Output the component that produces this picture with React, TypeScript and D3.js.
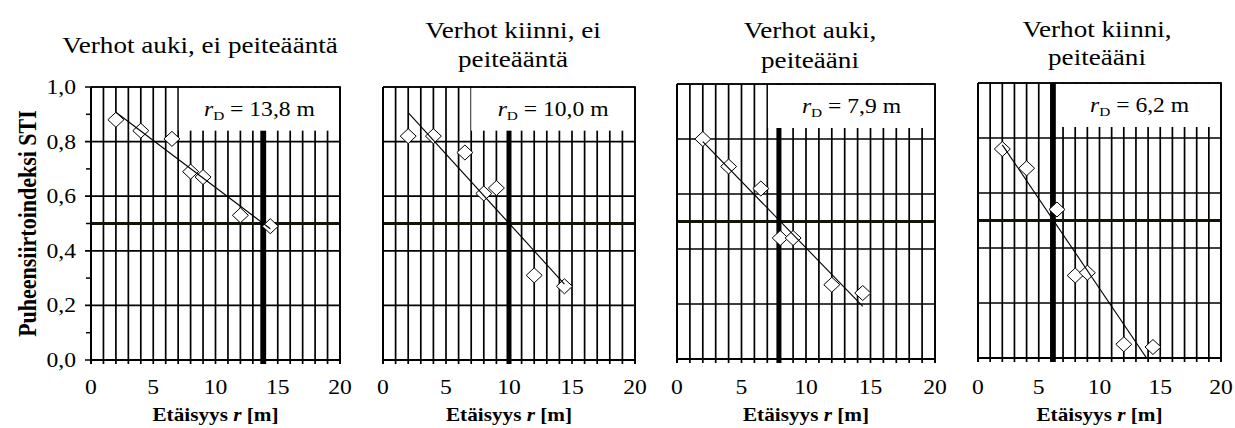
import React from "react";
import * as d3 from "d3";

// Measurement distances (m) shared by all four conditions
const distances = [2, 4, 6.5, 8, 9, 12, 14.4];

// Speech transmission index measured at each distance
const stiOpenNoMasking = [0.88, 0.84, 0.81, 0.69, 0.67, 0.53, 0.49];
const stiClosedNoMasking = [0.82, 0.82, 0.76, 0.61, 0.63, 0.31, 0.27];
const stiOpenMasking = [0.8, 0.7, 0.62, 0.44, 0.44, 0.27, 0.24];
const stiClosedMasking = [0.76, 0.69, 0.54, 0.3, 0.31, 0.05, 0.04];

// Distraction distance r_D for each condition (m)
const distractionDistances = [13.8, 10.0, 7.9, 6.2];

const panelTitles = [
  ["Verhot auki, ei peiteääntä"],
  ["Verhot kiinni, ei", "peiteääntä"],
  ["Verhot auki,", "peiteääni"],
  ["Verhot kiinni,", "peiteääni"],
];

const xTickValues = [0, 5, 10, 15, 20];
const yTickValues = [0, 0.2, 0.4, 0.6, 0.8, 1.0];
const yMinorTickValues = [0.1, 0.3, 0.5, 0.7, 0.9];
const STI_LIMIT = 0.5;
const X_MAX = 20;

const series = [stiOpenNoMasking, stiClosedNoMasking, stiOpenMasking, stiClosedMasking];

// Panel geometry (pixels) and legend box start (in metres)
const frames = [
  { left: 91, right: 340, top: 87, bottom: 360, boxFrom: 7.05, titleX: 200, titleY: [53] },
  { left: 383, right: 635, top: 87, bottom: 360, boxFrom: 7.0, titleX: 513, titleY: [38, 67] },
  { left: 677, right: 935, top: 84, bottom: 359, boxFrom: 7.05, titleX: 810, titleY: [38, 68] },
  { left: 978, right: 1221, top: 83, bottom: 358, boxFrom: 6.6, titleX: 1097, titleY: [37, 65] },
];

const FONT = "'Liberation Serif', 'Times New Roman', Times, serif";
const SX = 1.18; // horizontal stretch of the lettering
const BOX_BOTTOM = 0.84;
const GRID_W = 1.7;

const fiLocale = d3.formatLocale({ decimal: ",", thousands: " ", grouping: [3], currency: ["", " €"] });
const fmt1 = fiLocale.format(".1f");

function fitLine(xs: number[], ys: number[]) {
  const mx = d3.mean(xs) as number;
  const my = d3.mean(ys) as number;
  const sxy = d3.sum(xs, (x, i) => (x - mx) * (ys[i] - my));
  const sxx = d3.sum(xs, (x) => (x - mx) * (x - mx));
  const slope = sxy / sxx;
  const intercept = my - slope * mx;
  return (x: number) => intercept + slope * x;
}

function Panel({ idx }: { idx: number }) {
  const f = frames[idx];
  const values = series[idx];
  const rD = distractionDistances[idx];
  const x = d3.scaleLinear().domain([0, X_MAX]).range([f.left, f.right]);
  const y = d3.scaleLinear().domain([0, 1]).range([f.bottom, f.top]);
  const trend = fitLine(distances, values);
  const xExtent = d3.extent(distances) as [number, number];
  const trendPts: [number, number][] = [xExtent[0], xExtent[1]].map((d) => [d, trend(d)]);
  const lineGen = d3
    .line<[number, number]>()
    .x((d) => x(d[0]))
    .y((d) => y(d[1]));
  const clipId = `plot-clip-${idx}`;
  const gridX = d3.range(0, X_MAX + 1, 1);
  const hw = 8;
  const hh = 7.5;
  const isFirst = idx === 0;

  return (
    <g>
      <defs>
        <clipPath id={clipId}>
          <rect x={f.left} y={f.top} width={f.right - f.left} height={f.bottom - f.top} />
        </clipPath>
      </defs>

      {/* vertical grid with ticks below the axis */}
      {gridX.map((g) => (
        <line key={`vx${g}`} x1={x(g)} x2={x(g)} y1={y(0) + 4} y2={y(1)} stroke="#000" strokeWidth={GRID_W} />
      ))}

      {/* horizontal grid */}
      {yTickValues.map((t) => (
        <line
          key={`hy${t}`}
          x1={isFirst ? f.left - 6 : f.left}
          x2={f.right}
          y1={y(t)}
          y2={y(t)}
          stroke="#000"
          strokeWidth={GRID_W}
        />
      ))}
      {isFirst &&
        yMinorTickValues.map((t) => (
          <line key={`mt${t}`} x1={f.left - 5} x2={f.left} y1={y(t)} y2={y(t)} stroke="#000" strokeWidth={1.5} />
        ))}

      {/* STI = 0,5 limit */}
      <line x1={f.left} x2={f.right} y1={y(STI_LIMIT)} y2={y(STI_LIMIT)} stroke="#14140a" strokeWidth={3.2} />

      {/* distraction distance */}
      <line x1={x(rD)} x2={x(rD)} y1={y(0) + 4} y2={y(1)} stroke="#000" strokeWidth={5} />

      {/* legend box */}
      <rect
        x={x(f.boxFrom)}
        y={y(1) + 1}
        width={x(X_MAX) - x(f.boxFrom) - 1}
        height={y(BOX_BOTTOM) - y(1) - 1}
        fill="#fff"
      />

      {/* frame */}
      <line x1={f.left} x2={f.right + 1} y1={y(1)} y2={y(1)} stroke="#000" strokeWidth={GRID_W} />
      <line x1={f.right} x2={f.right} y1={y(0) + 4} y2={y(1)} stroke="#000" strokeWidth={GRID_W} />
      <line x1={f.left} x2={f.left} y1={y(0) + 4} y2={y(1)} stroke="#000" strokeWidth={2} />
      <line x1={f.left - 1} x2={f.right + 1} y1={y(0)} y2={y(0)} stroke="#000" strokeWidth={2.2} />

      {/* legend text */}
      <g
        transform={`translate(${(x(f.boxFrom) + x(X_MAX)) / 2},${(y(1) + y(BOX_BOTTOM)) / 2 + 7}) scale(${SX},1)`}
      >
        <text textAnchor="middle" fontFamily={FONT} fontSize={20} fill="#000">
          <tspan fontStyle="italic">r</tspan>
          <tspan fontSize={13} dy={4}>
            D
          </tspan>
          <tspan dy={-4}>{` = ${fmt1(rD)} m`}</tspan>
        </text>
      </g>

      {/* measurements */}
      {distances.map((d, i) => {
        const cx = x(d);
        const cy = y(values[i]);
        return (
          <path
            key={`pt${i}`}
            d={`M${cx},${cy - hh}L${cx + hw},${cy}L${cx},${cy + hh}L${cx - hw},${cy}Z`}
            fill="#fff"
            stroke="#000"
            strokeWidth={1}
          />
        );
      })}

      {/* linear trend */}
      <g clipPath={`url(#${clipId})`}>
        <path d={lineGen(trendPts) || ""} fill="none" stroke="#000" strokeWidth={1.1} />
      </g>

      {/* x tick labels */}
      {xTickValues.map((t) => (
        <g key={`xl${t}`} transform={`translate(${x(t)},394) scale(${SX},1)`}>
          <text textAnchor="middle" fontFamily={FONT} fontSize={20} fill="#000">
            {t}
          </text>
        </g>
      ))}

      {/* x axis title */}
      <g transform={`translate(${(f.left + f.right) / 2},421) scale(${SX},1)`}>
        <text textAnchor="middle" fontFamily={FONT} fontSize={18} fontWeight="bold" fill="#000">
          <tspan>Etäisyys </tspan>
          <tspan fontStyle="italic">r</tspan>
          <tspan> [m]</tspan>
        </text>
      </g>

      {/* panel title */}
      {panelTitles[idx].map((line, li) => (
        <g key={`tt${li}`} transform={`translate(${f.titleX},${f.titleY[li]}) scale(${SX},1)`}>
          <text textAnchor="middle" fontFamily={FONT} fontSize={23} fill="#000">
            {line}
          </text>
        </g>
      ))}

      {/* y tick labels (first panel only) */}
      {isFirst &&
        yTickValues.map((t) => (
          <g key={`yl${t}`} transform={`translate(76,${y(t) + 7}) scale(${SX},1)`}>
            <text textAnchor="end" fontFamily={FONT} fontSize={20} fill="#000">
              {fmt1(t)}
            </text>
          </g>
        ))}
    </g>
  );
}

export default function App() {
  return (
    <svg
      width={1235}
      height={428}
      style={{ position: "absolute", left: 0, top: 0, display: "block", background: "#fff" }}
    >
      <rect width={1235} height={428} fill="#fff" />
      {frames.map((_, i) => (
        <Panel key={i} idx={i} />
      ))}
      <g transform={`translate(36,${(frames[0].top + frames[0].bottom) / 2}) rotate(-90) scale(1,${SX})`}>
        <text textAnchor="middle" fontFamily={FONT} fontSize={22} fontWeight="bold" fill="#000">
          Puheensiirtoindeksi STI
        </text>
      </g>
    </svg>
  );
}
